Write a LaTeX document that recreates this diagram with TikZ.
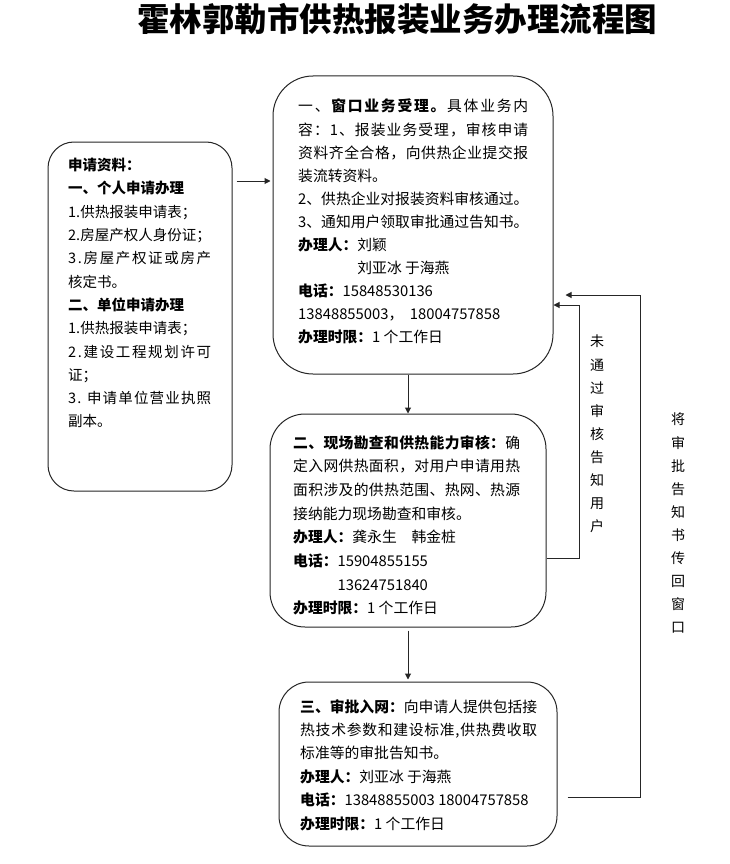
\documentclass[tikz,border=0pt]{standalone}
\usepackage{fontspec}
\setmainfont{Noto Sans CJK SC}
\usetikzlibrary{arrows.meta,calc}
\makeatletter
\newif\ifjlfirst
\def\jl@bf{\bfseries}
\def\jl@md{\mdseries}
\newcommand\jl[2]{\hbox to #1{\jlfirsttrue\@tfor\jl@x:=#2\do{\jl@item}}}
\def\jl@item{%
  \ifx\jl@x\jl@bf\bfseries
  \else\ifx\jl@x\jl@md\mdseries
  \else
    \ifjlfirst\jlfirstfalse\else\hskip 0pt plus 1fil\relax\fi
    \jl@x
  \fi\fi}
\makeatother
\begin{document}
\begin{tikzpicture}[x=1pt,y=-1pt,
  box/.style={draw=black!85, line width=1pt, inner sep=0pt},
  txt/.style={anchor=north west, align=left, inner sep=0pt},
  arr/.style={draw=black!85, line width=1pt, -{Triangle[length=6pt,width=6pt]}},
  vlab/.style={anchor=north, align=center, inner sep=0pt, font=\fontsize{14}{23.1}\selectfont}
]
\useasboundingbox[fill=white] (0,0) rectangle (730,864);

% title
\node[font=\fontsize{32.5}{33}\selectfont\bfseries, inner sep=0pt] (title) at (397,19) {霍林郭勒市供热报装业务办理流程图};

% boxes
\node[box, rounded corners=26pt, minimum width=184pt, minimum height=349pt] (L) at (140,316.5) {};
\node[box, rounded corners=40pt, minimum width=280pt, minimum height=298pt] (b1) at (413,225) {};
\node[box, rounded corners=35pt, minimum width=276pt, minimum height=213pt] (b2) at (408,520.5) {};
\node[box, rounded corners=30pt, minimum width=278pt, minimum height=164pt] (b3) at (418,764) {};

% left text
\node[txt, font=\fontsize{14.5}{23.3}\selectfont] (tL) at (68,158) {%
\textbf{申请资料：}\\
\textbf{一、个人申请办理}\\
1.供热报装申请表；\\
2.房屋产权人身份证；\\
\jl{143pt}{3.房屋产权证或房产}\\
核定书。\\
\textbf{二、单位申请办理}\\
1.供热报装申请表；\\
\jl{143pt}{2.建设工程规划许可}\\
证；\\
\jl{143pt}{3.\ 申请单位营业执照}\\
副本。};

% box 1 text
\node[txt, font=\fontsize{14.8}{23.1}\selectfont] (t1) at (298,99) {%
\jl{230pt}{一、\bfseries 窗口业务受理。\mdseries 具体业务内}\\
\jl{230pt}{容：1、报装业务受理，审核申请}\\
\jl{230pt}{资料齐全合格，向供热企业提交报}\\
装流转资料。\\
\jl{230pt}{2、供热企业对报装资料审核通过。}\\
\jl{230pt}{3、通知用户领取审批通过告知书。}\\
\textbf{办理人：}刘颖\\
\phantom{\textbf{办理人：}}刘亚冰\ 于海燕\\
\textbf{电话：}15848530136\\
13848855003，\ \ 18004757858\\
\textbf{办理时限：}1 个工作日};

% box 2 text
\node[txt, font=\fontsize{14.8}{23.7}\selectfont] (t2) at (293,435) {%
\jl{227pt}{\bfseries 二、现场勘查和供热能力审核：\mdseries 确}\\
\jl{227pt}{定入网供热面积，对用户申请用热}\\
\jl{227pt}{面积涉及的供热范围、热网、热源}\\
接纳能力现场勘查和审核。\\
\textbf{办理人：}龚永生　韩金桩\\
\textbf{电话：}15904855155\\
\phantom{\textbf{电话：}}13624751840\\
\textbf{办理时限：}1 个工作日};

% box 3 text
\node[txt, font=\fontsize{14.8}{23.4}\selectfont] (t3) at (300,699) {%
\jl{237pt}{\bfseries 三、审批入网：\mdseries 向申请人提供包括接}\\
\jl{237pt}{热技术参数和建设标准,供热费收取}\\
标准等的审批告知书。\\
\textbf{办理人：}刘亚冰\ 于海燕\\
\textbf{电话：}13848855003 18004757858\\
\textbf{办理时限：}1 个工作日};

% vertical labels
\node[vlab] (v1) at (597,335) {未\\通\\过\\审\\核\\告\\知\\用\\户};
\node[vlab] (v2) at (678,413) {将\\审\\批\\告\\知\\书\\传\\回\\窗\\口};

% connectors
\draw[arr] ($(L.east |- 0,181)+(4,0)$) -- ($(b1.west |- 0,181)+(-2,0)$);
\draw[arr] (b2.north |- b1.south) -- (b2.north);
\draw[arr] ($(b2.south)+(0,3)$) -- ($(b2.south |- b3.north)+(0,-2)$);

\coordinate (f1a) at (579,558);
\coordinate (f1b) at (579,305);
\draw[arr] (b2.east |- f1a) -- (f1a) -- (f1b) -- (b1.east |- f1b);

\coordinate (f2a) at (640,797);
\coordinate (f2b) at (640,295);
\draw[arr] ($(b3.east |- f2a)+(10,0)$) -- (f2a) -- (f2b) -- ($(b1.east |- f2b)+(12,0)$);
\end{tikzpicture}
\end{document}
